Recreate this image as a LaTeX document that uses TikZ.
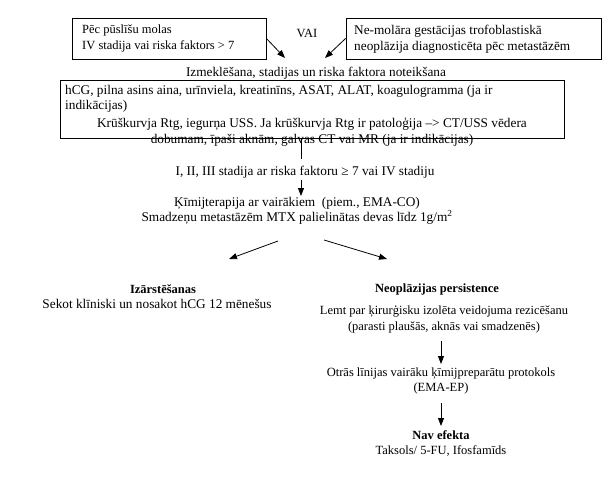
\documentclass[tikz,border=0pt]{standalone}
\usepackage{fontspec}
\setmainfont{Liberation Serif}
\usetikzlibrary{arrows.meta}
\begin{document}
\begin{tikzpicture}[x=1pt,y=-1pt,
  every node/.style={font=\fontsize{12.5}{15.5}\selectfont, inner sep=0pt},
  wide/.style={font=\fontsize{13.3}{15.5}\selectfont},
  box/.style={draw, line width=0.9pt},
  conn/.style={line width=0.8pt},
  arr/.style={conn, -{Triangle[length=8pt,width=6pt]}},
  lines/.style={align=center},
  bold/.style={font=\fontsize{12.5}{15.5}\selectfont\bfseries}]
\useasboundingbox (0,0) rectangle (613,479);
\fill[white] (0,0) rectangle (613,479);
% top boxes
\node[box, minimum width=194pt, minimum height=41pt] (box1) at (169,38.5) {};
\node[anchor=west, align=left] (t1) at (82,38.5) {Pēc pūslīšu molas\\IV stadija vai riska faktors > 7};
\node[box, minimum width=255pt, minimum height=41pt] (box2) at (473.5,38.5) {};
\node[wide, anchor=west, align=left] (t2) at (354,39.5) {Ne-molāra gestācijas trofoblastiskā\\neoplāzija diagnosticēta pēc metastāzēm};
\node (vai) at (307,33) {VAI};
\coordinate (a1) at (285,58);
\coordinate (a2) at (325,58);
\draw[arr] (box1.east) -- (a1);
\draw[arr] (box2.west) -- (a2);
\node[wide] (izm) at (316,73) {Izmeklēšana, stadijas un riska faktora noteikšana};
% box 3
\node[box, minimum width=504pt, minimum height=58pt] (box3) at (312,109) {};
\node[wide, anchor=west, align=left] (t3a) at (65,99) {hCG, pilna asins aina, urīnviela, kreatinīns, ASAT, ALAT, koagulogramma (ja ir\\indikācijas)};
\node[wide, lines] (t3b) at (312,132) {Krūškurvja Rtg, iegurņa USS. Ja krūškurvja Rtg ir patoloģija –> CT/USS vēdera\\dobumam, īpaši aknām, galvas CT vai MR (ja ir indikācijas)};
\coordinate (c1) at (301,138);
\coordinate (c2) at (301,159);
\draw[conn] (c1) -- (c2);
\node[wide] (stage) at (305,172) {I, II, III stadija ar riska faktoru ≥ 7 vai IV stadiju};
\coordinate (c3) at (301,180);
\coordinate (c4) at (301,196);
\draw[arr] (c3) -- (c4);
\node[wide, lines] (chemo) at (297,211) {Ķīmijterapija ar vairākiem\ \ (piem., EMA-CO)\\Smadzeņu metastāzēm MTX palielinātas devas līdz 1g/m\textsuperscript{2}};
\coordinate (d1) at (278,241);
\coordinate (d2) at (229,259);
\coordinate (d3) at (324,240);
\coordinate (d4) at (387,259);
\draw[arr] (d1) -- (d2);
\draw[arr] (d3) -- (d4);
% left branch
\node[bold] (cure) at (163,289) {Izārstēšanas};
\node[wide] (follow) at (157,304) {Sekot klīniski un nosakot hCG 12 mēnešus};
% right branch
\node[bold] (pers) at (437,289) {Neoplāzijas persistence};
\node[lines] (surg) at (444,319.5) {Lemt par ķirurģisku izolēta veidojuma rezicēšanu\\(parasti plaušās, aknās vai smadzenēs)};
\coordinate (e1) at (441,341);
\coordinate (e2) at (441,364);
\draw[arr] (e1) -- (e2);
\node[lines] (second) at (441,381) {Otrās līnijas vairāku ķīmijpreparātu protokols\\(EMA-EP)};
\coordinate (e3) at (441,403);
\coordinate (e4) at (441,426);
\draw[arr] (e3) -- (e4);
\node[bold] (noeff) at (441,435) {Nav efekta};
\node (taks) at (441,451) {Taksols/ 5-FU, Ifosfamīds};
\end{tikzpicture}
\end{document}
